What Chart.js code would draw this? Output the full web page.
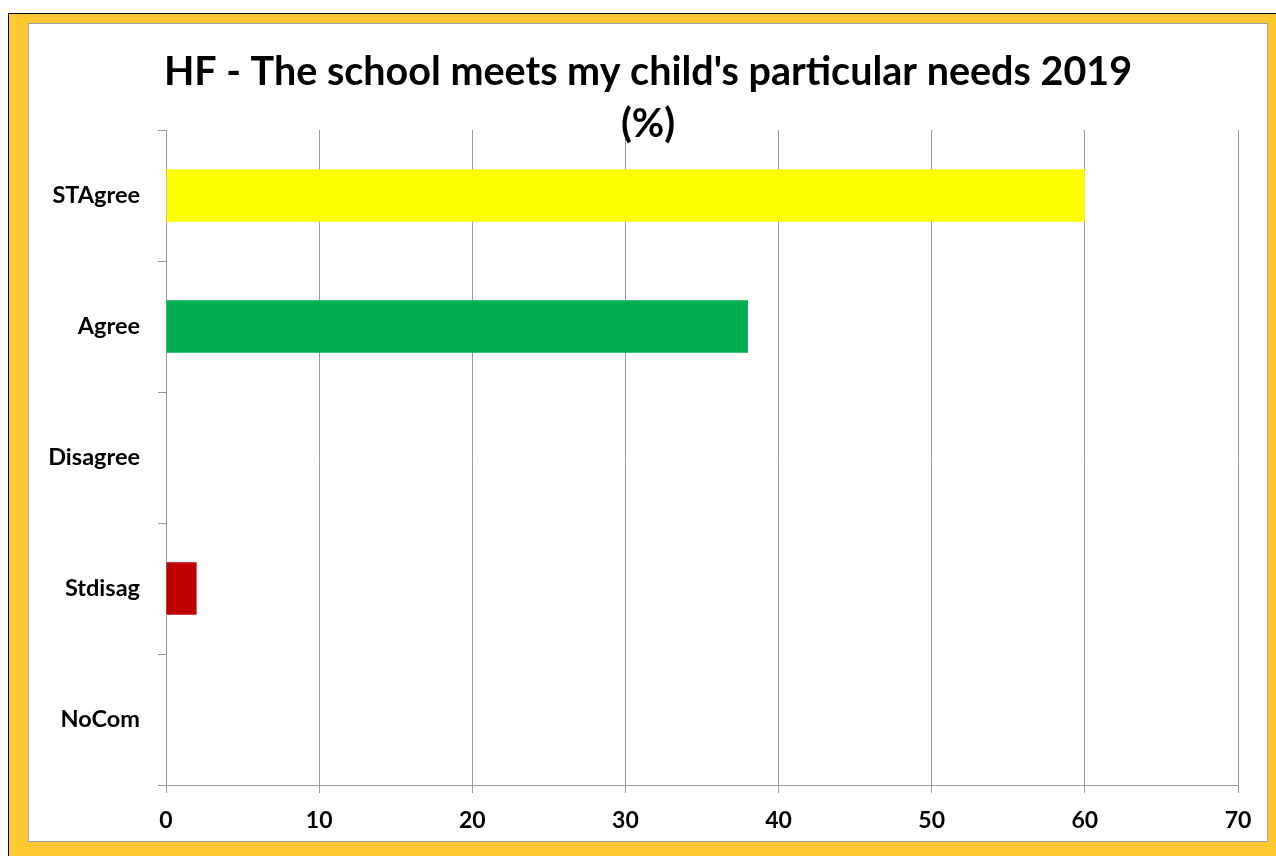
<!DOCTYPE html>
<html>
<head>
<meta charset="utf-8">
<script src="https://cdn.jsdelivr.net/npm/chart.js@4/dist/chart.umd.min.js"></script>
<style>
    body { margin: 0; background: #ffffff; }
    /* 바깥 노란 테두리 */
    .frame {
        position: absolute; left: 8px; top: 13px; width: 1268px; height: 843px;
        border-top: 1px solid #000000; border-left: 1px solid #000000;
        background: #FFC933;
    }
    /* 안쪽 흰색 차트 영역 */
    .inner {
        position: absolute; left: 19px; top: 9px; width: 1238px; height: 817px;
        border: 1px solid #a0a0a0; background: #ffffff;
    }
    canvas { display: block; }
</style>
</head>
<body>
<div class="frame">
    <div class="inner">
        <canvas id="chart" width="1238" height="817"></canvas>
    </div>
</div>
<script>
// 차트 데이터
const categories = ["STAgree", "Agree", "Disagree", "Stdisag", "NoCom"];
const values = [60, 38, 0, 2, 0];
const barColors = ["#FFFF00", "#00B050", "#FFFF00", "#C00000", "#7F7F7F"];
const titleLines = ["HF - The school meets my child's particular needs 2019", "(%)"];

const gridColor = "#9a9a9a";
const fontFamily = "Lato, 'Open Sans', sans-serif";

// 제목을 흰 영역 전체 기준으로 가운데 정렬 (오른쪽 여백만큼 이동)
const titleShift = {
    id: "titleShift",
    afterLayout(chart) {
        const pad = chart.options.layout.padding.right / 2;
        chart.titleBlock.left += pad;
        chart.titleBlock.right += pad;
    },
};

const ctx = document.getElementById("chart").getContext("2d");

new Chart(ctx, {
    type: "bar",
    data: {
        labels: categories,
        datasets: [
            {
                data: values,
                backgroundColor: barColors,
                borderWidth: 0,
                barPercentage: 0.4,
                categoryPercentage: 1,
            },
        ],
    },
    options: {
        indexAxis: "y",
        responsive: false,
        animation: false,
        devicePixelRatio: 1,
        layout: {
            padding: { left: 0, right: 29, top: 0, bottom: 0 },
        },
        plugins: {
            legend: { display: false },
            tooltip: { enabled: false },
            title: {
                display: true,
                text: titleLines,
                color: "#000000",
                font: { family: fontFamily, size: 39.5, weight: "bold", lineHeight: "52px" },
                padding: { top: 22, bottom: -20 },
            },
        },
        scales: {
            x: {
                type: "linear",
                min: 0,
                max: 70,
                ticks: {
                    stepSize: 10,
                    color: "#000000",
                    padding: 14,
                    font: { family: fontFamily, size: 23, weight: "bold" },
                },
                grid: {
                    color: gridColor,
                    lineWidth: 1,
                    tickLength: 8,
                },
                border: { color: gridColor, width: 1 },
                afterFit: function (scale) {
                    scale.height = 56;
                },
            },
            y: {
                ticks: {
                    color: "#000000",
                    padding: 18,
                    font: { family: fontFamily, size: 23.5, weight: "bold" },
                },
                grid: {
                    color: gridColor,
                    drawOnChartArea: false,
                    tickLength: 8,
                },
                border: { color: gridColor, width: 1 },
                afterFit: function (scale) {
                    scale.width = 137;
                },
            },
        },
    },
    plugins: [titleShift],
});
</script>
</body>
</html>
